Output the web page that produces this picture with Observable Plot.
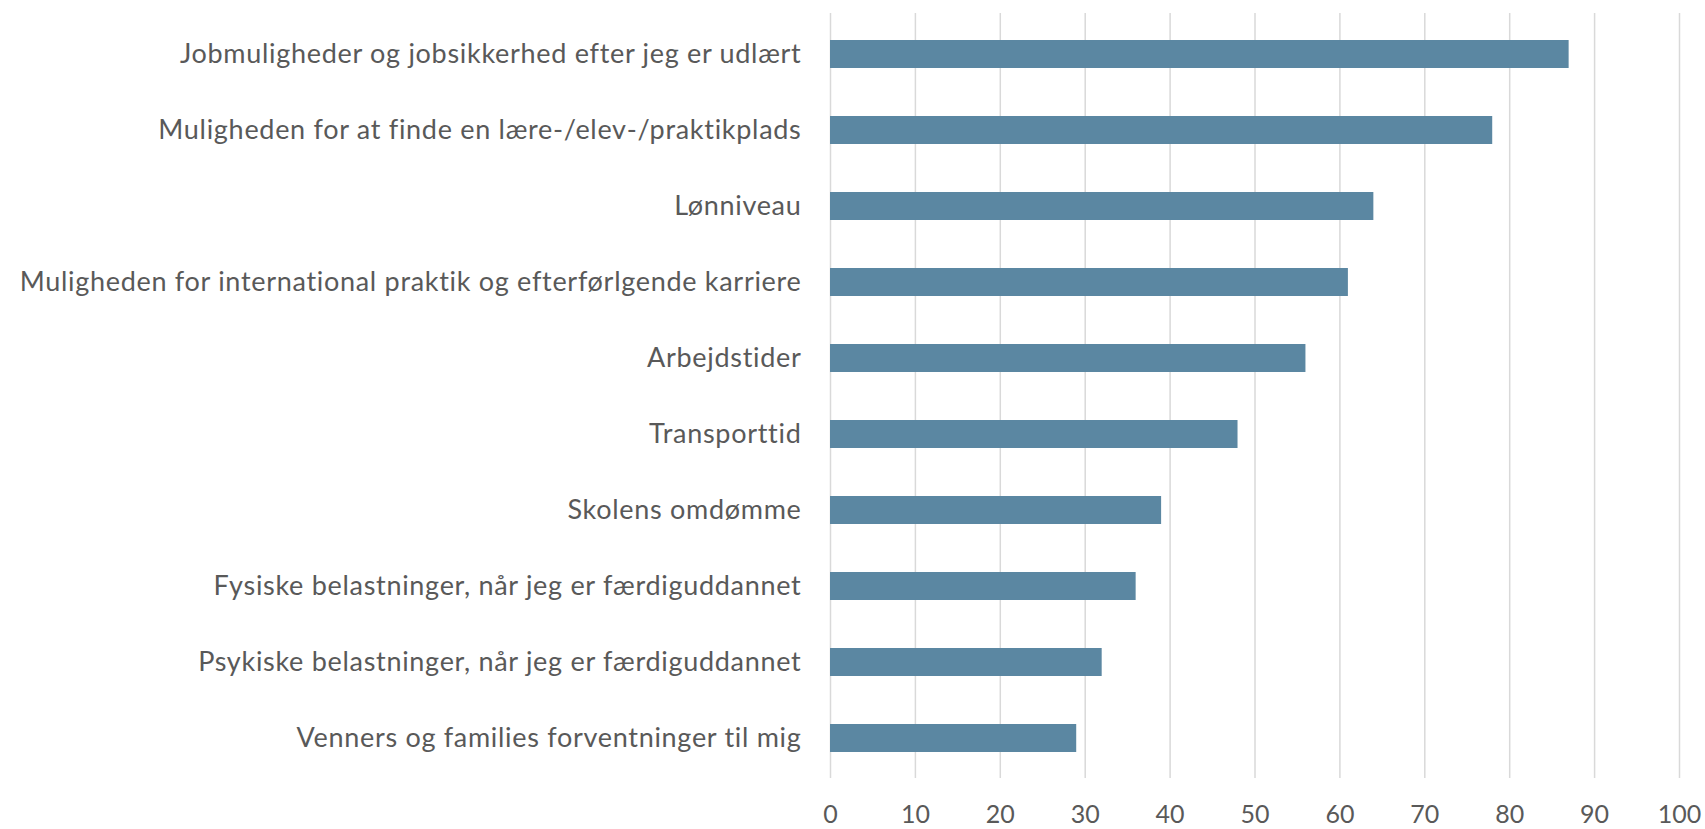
<!DOCTYPE html>
<html>
<head>
<meta charset="utf-8">
<script src="https://cdn.jsdelivr.net/npm/d3@7"></script>
<script src="https://cdn.jsdelivr.net/npm/@observablehq/plot@0.6"></script>
<style>
  html, body { margin: 0; padding: 0; background: #fff; }
  #chart svg { display: block; }
  #chart g[aria-label="y-axis tick label"] text { letter-spacing: 0.7px; }
</style>
</head>
<body>
<div id="chart"></div>
<script>
const categories = [
  "Jobmuligheder og jobsikkerhed efter jeg er udlært",
  "Muligheden for at finde en lære-/elev-/praktikplads",
  "Lønniveau",
  "Muligheden for international praktik og efterførlgende karriere",
  "Arbejdstider",
  "Transporttid",
  "Skolens omdømme",
  "Fysiske belastninger, når jeg er færdiguddannet",
  "Psykiske belastninger, når jeg er færdiguddannet",
  "Venners og families forventninger til mig"
];
const values = [87, 78, 64, 61, 56, 48, 39, 36, 32, 29];
const xTicks = [0, 10, 20, 30, 40, 50, 60, 70, 80, 90, 100];

const data = categories.map((c, i) => ({category: c, value: values[i]}));

const chart = Plot.plot({
  width: 1705,
  height: 829,
  marginTop: 13,
  marginBottom: 51,
  marginLeft: 830,
  marginRight: 26,
  style: {fontFamily: "Lato, sans-serif", fontSize: "26px", color: "#595959", background: "#fff"},
  x: {domain: [0, 100], ticks: xTicks, tickFormat: d => String(d), label: null},
  y: {domain: categories, padding: 0.634, paddingOuter: 0.317, label: null},
  marks: [
    Plot.ruleX(xTicks, {stroke: "#d9d9d9", strokeWidth: 1.5}),
    Plot.barX(data, {x: "value", y: "category", fill: "#5b87a2"}),
    Plot.axisX({ticks: xTicks, tickSize: 0, tickPadding: 27, fontSize: 25, fill: "#595959", label: null, tickFormat: d => String(d)}),
    Plot.axisY({tickSize: 0, tickPadding: 29, fontSize: 27, fill: "#595959", label: null})
  ]
});
document.getElementById("chart").appendChild(chart);
</script>
</body>
</html>
